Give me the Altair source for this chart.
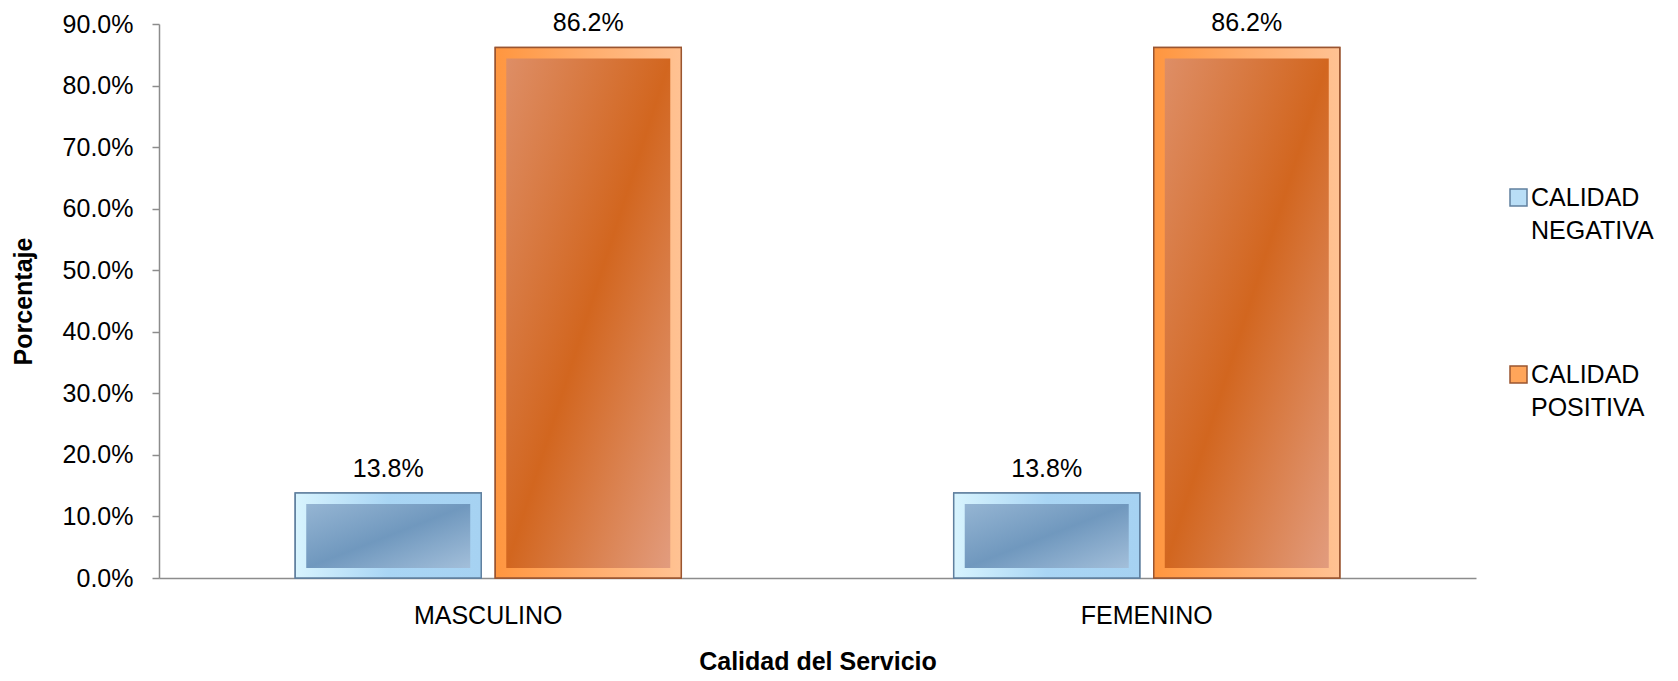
import altair as alt
import pandas as pd

categorias = ["MASCULINO", "FEMENINO"]
series = ["CALIDAD NEGATIVA", "CALIDAD POSITIVA"]
negativa = [0.138, 0.138]
positiva = [0.862, 0.862]
y_ticks = [0.0, 0.1, 0.2, 0.3, 0.4, 0.5, 0.6, 0.7, 0.8, 0.9]

rows = []
for i, c in enumerate(categorias):
    rows.append({"genero": c, "serie": series[0], "valor": negativa[i]})
    rows.append({"genero": c, "serie": series[1], "valor": positiva[i]})
df = pd.DataFrame(rows)

FONT = "Liberation Sans"
FS = 25

bevel_colors = ["#B9DEF6", "#FFA55A"]
border_colors = ["#60809F", "#9A5530"]


def grad(c0, c1, c2, x2=1, y2=1):
    return alt.LinearGradient(
        gradient="linear", x1=0, y1=0, x2=x2, y2=y2,
        stops=[alt.GradientStop(color=c0, offset=0),
               alt.GradientStop(color=c1, offset=0.5),
               alt.GradientStop(color=c2, offset=1)])


grad_blue = grad("#95B5D3", "#7098BE", "#A3BFDA")
grad_orange = grad("#DE8E66", "#D2661F", "#E29C7E")
bevel_blue = grad("#D8F4FE", "#A9D5F4", "#A6D2F2", x2=1, y2=0)
bevel_orange = grad("#FF963F", "#FFAD6C", "#FFC293", x2=1, y2=0)

x = alt.X("genero:N", sort=categorias, title="Calidad del Servicio",
          scale=alt.Scale(paddingInner=0, paddingOuter=0),
          axis=alt.Axis(labelAngle=0, ticks=False, labelPadding=25, titlePadding=21,
                        domainColor="#8C8C8C", domainWidth=1.5,
                        labelFontSize=FS, titleFontSize=FS, titleFontWeight="bold",
                        labelColor="black", titleColor="black"))
xoff = alt.XOffset("serie:N", sort=series,
                   scale=alt.Scale(domain=series, paddingInner=0.07, paddingOuter=0.681))
y = alt.Y("valor:Q", stack=None, title="Porcentaje",
          scale=alt.Scale(domain=[0, 0.9], nice=False),
          axis=alt.Axis(format=".1%", values=y_ticks, grid=False, tickSize=7, tickWidth=1.5,
                        tickColor="#8C8C8C", domainColor="#8C8C8C", domainWidth=1.5,
                        labelPadding=19, titlePadding=26,
                        labelFontSize=FS, titleFontSize=FS, titleFontWeight="bold",
                        labelColor="black", titleColor="black"))

base = alt.Chart(df).encode(x=x, xOffset=xoff, y=y)

legend_def = alt.Legend(
    title=None, orient="none", legendX=1347, legendY=161,
    symbolType="square", symbolSize=289, symbolStrokeWidth=1.5,
    labelFontSize=FS, labelColor="black", labelOffset=0, labelBaseline="middle",
    labelExpr="split(datum.label, ' ')",
    rowPadding=118, padding=0, labelLimit=400)

outer = base.mark_bar(strokeWidth=1.5).encode(
    fill=alt.Fill("serie:N", sort=series,
                  scale=alt.Scale(domain=series, range=bevel_colors), legend=legend_def),
    stroke=alt.Stroke("serie:N", sort=series,
                      scale=alt.Scale(domain=series, range=border_colors), legend=legend_def),
)

neg = base.transform_filter(alt.datum.serie == series[0])
pos = base.transform_filter(alt.datum.serie == series[1])

bevel_neg = neg.mark_bar(fill=bevel_blue, stroke=border_colors[0], strokeWidth=1.5)
bevel_pos = pos.mark_bar(fill=bevel_orange, stroke=border_colors[1], strokeWidth=1.5)

inner_neg = neg.mark_bar(fill=grad_blue, width=164, yOffset=11, y2Offset=-10).encode(
    y2=alt.Y2Datum(0))
inner_pos = pos.mark_bar(fill=grad_orange, width=164, yOffset=11, y2Offset=-10).encode(
    y2=alt.Y2Datum(0))

labels = base.mark_text(baseline="alphabetic", dy=-16, fontSize=FS, color="black").encode(
    text=alt.Text("valor:Q", format=".1%"))

chart = alt.layer(outer, bevel_neg, bevel_pos, inner_neg, inner_pos, labels).properties(
    width=1317, height=554,
    autosize=alt.AutoSizeParams(type="none"),
    padding={"left": 151, "top": 16, "right": 190, "bottom": 95},
).configure(
    font=FONT,
    style={"guide-label": {"lineHeight": 33}},
).configure_view(stroke=None)

chart.save("out.html", embed_options={"renderer": "svg", "actions": False})
